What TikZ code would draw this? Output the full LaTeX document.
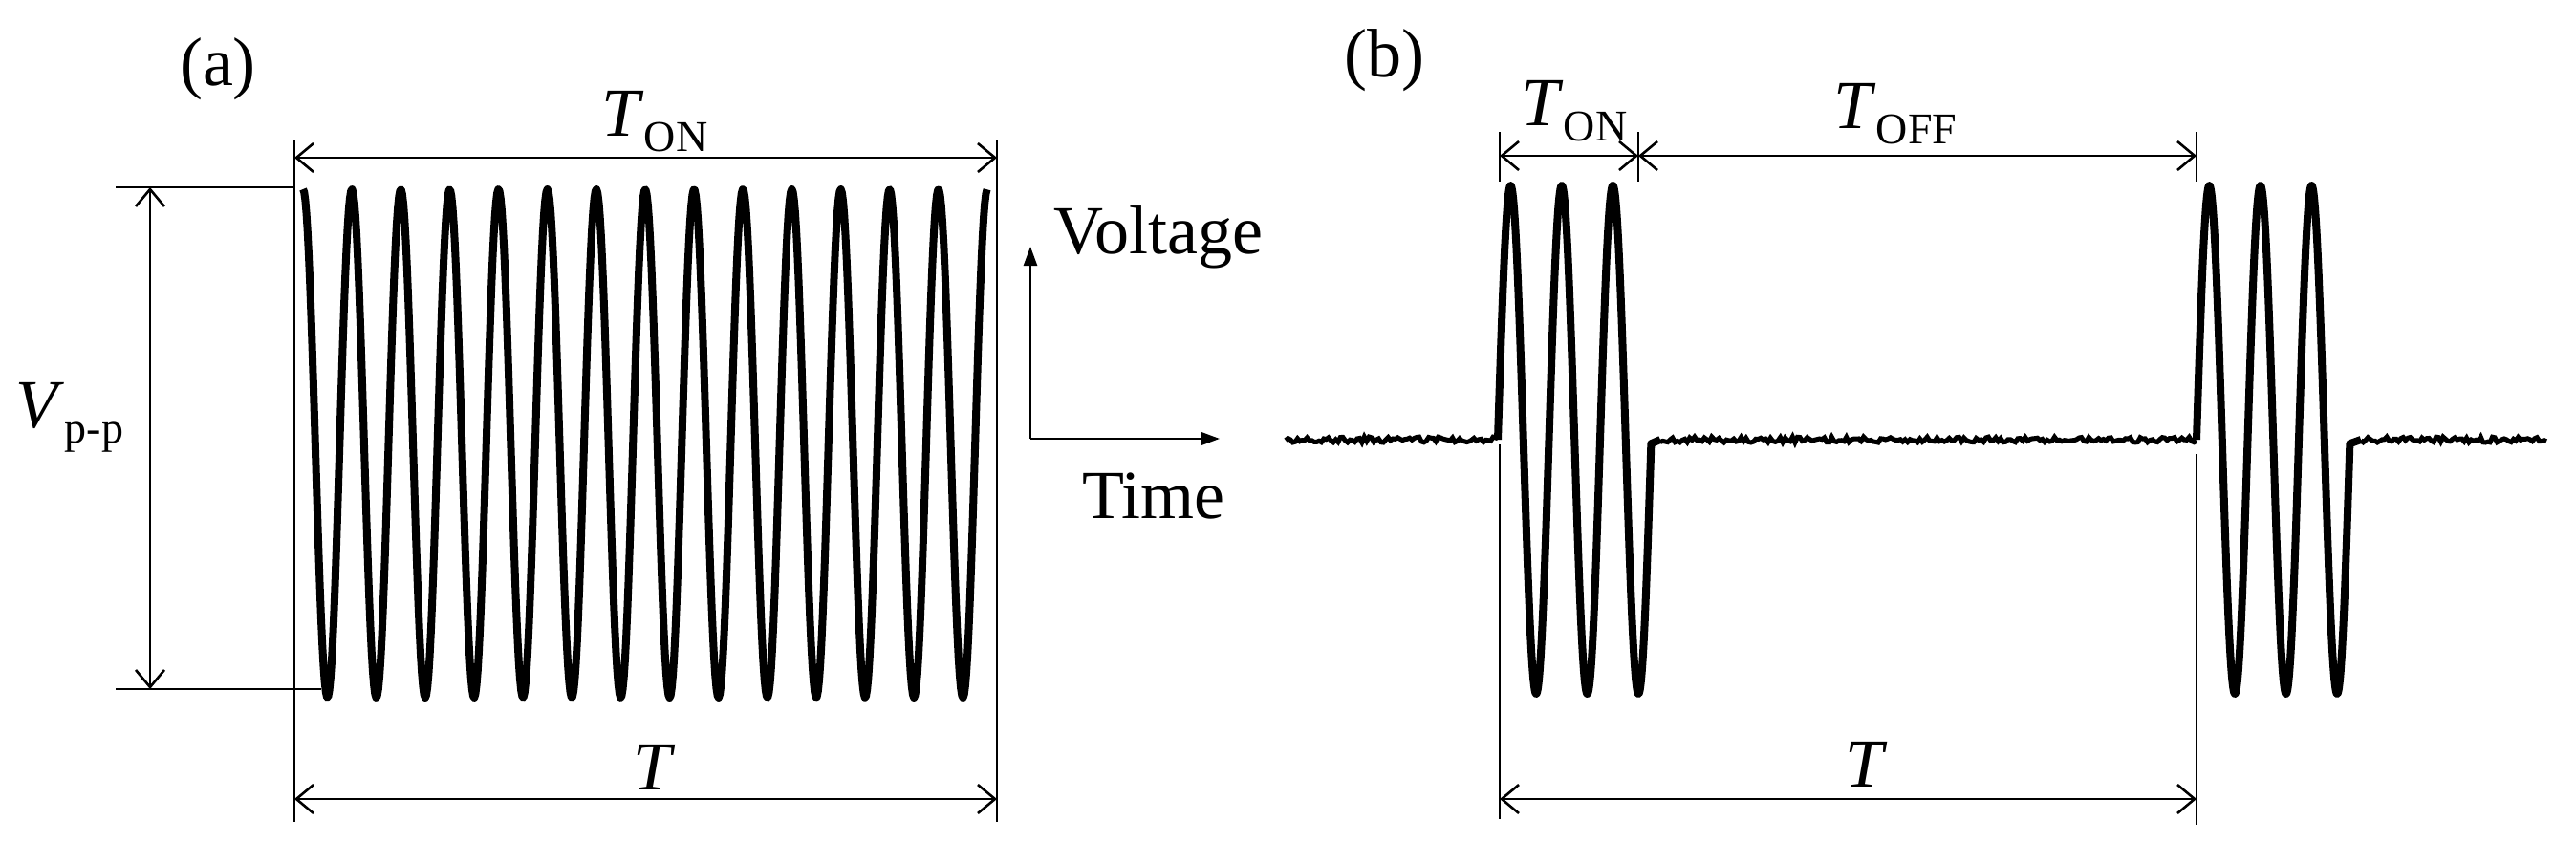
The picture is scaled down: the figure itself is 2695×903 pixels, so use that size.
\documentclass[tikz,border=0pt]{standalone}
\usepackage{fontspec}
\setmainfont{Liberation Serif}
\usetikzlibrary{arrows.meta}
\begin{document}
\begin{tikzpicture}[x=1pt,y=-1pt,
  thin line/.style={line width=2.6pt},
  dim/.style={line width=2.6pt,{Straight Barb[length=18pt,width=30pt,line width=2.6pt]}-{Straight Barb[length=18pt,width=30pt,line width=2.6pt]}},
  ax/.style={line width=2.6pt,-{Triangle[length=20pt,width=14pt]}},
  wave/.style={line width=8pt,line join=round},
  lab/.style={font=\fontsize{72}{80}\selectfont,inner sep=0pt},
  noise/.style={line width=5pt}]
\newcommand{\mysub}[1]{\raisebox{-16pt}{\fontsize{46}{52}\selectfont #1}}
\useasboundingbox (0,0) rectangle (2695,903);
% ---------- panel (a)
\node[lab] (la) at (228,72) {(a)};
\coordinate (aL1) at (308,146); \coordinate (aL2) at (308,860);
\coordinate (aR1) at (1043,146); \coordinate (aR2) at (1043,860);
\draw[thin line] (aL1) -- (aL2);
\draw[thin line] (aR1) -- (aR2);
\coordinate (aT1) at (308,165); \coordinate (aT2) at (1043,165);
\draw[dim] (aT1) -- (aT2);
\node[lab] (aTon) at (685,127) {\textit{T}\mysub{ON}};
\coordinate (aB1) at (308,836); \coordinate (aB2) at (1043,836);
\draw[dim] (aB1) -- (aB2);
\node[lab] (aT) at (685,803) {\textit{T}};
\coordinate (tk1a) at (121,196); \coordinate (tk1b) at (308,196);
\coordinate (tk2a) at (121,721); \coordinate (tk2b) at (336,721);
\draw[thin line] (tk1a) -- (tk1b);
\draw[thin line] (tk2a) -- (tk2b);
\coordinate (vp1) at (157,196); \coordinate (vp2) at (157,721);
\draw[dim] (vp1) -- (vp2);
\node[lab] (vpp) at (73,437) {\textit{V}\mysub{p-p}};
\draw[wave] plot[domain=0:14,samples=600] ({317+\x*51.14},{464-266*cos(360*\x)});
% axes
\coordinate (o) at (1078,459);
\coordinate (oy) at (1078,258);
\coordinate (ox) at (1276,459);
\draw[ax] (o) -- (oy);
\draw[ax] (o) -- (ox);
\node[lab] (volt) at (1212,248) {Voltage};
\node[lab] (time) at (1207,519) {Time};
% ---------- panel (b)
\node[lab] (lb) at (1448,63) {(b)};
\coordinate (bL1) at (1569,138); \coordinate (bL2) at (1569,190);
\coordinate (bM1) at (1714,138); \coordinate (bM2) at (1714,190);
\coordinate (bR1) at (2298,138); \coordinate (bR2) at (2298,190);
\draw[thin line] (bL1) -- (bL2);
\draw[thin line] (bM1) -- (bM2);
\draw[thin line] (bR1) -- (bR2);
\coordinate (bA) at (1569,163); \coordinate (bB) at (1714,163); \coordinate (bC) at (2298,163);
\draw[dim] (bA) -- (bB);
\draw[dim] (bB) -- (bC);
\node[lab] (bTon) at (1647,116) {\textit{T}\mysub{ON}};
\node[lab] (bToff) at (1983,119) {\textit{T}\mysub{OFF}};
\coordinate (bL3) at (1569,465); \coordinate (bL4) at (1569,857);
\coordinate (bR3) at (2298,475); \coordinate (bR4) at (2298,863);
\draw[thin line] (bL3) -- (bL4);
\draw[thin line] (bR3) -- (bR4);
\coordinate (bT1) at (1569,836); \coordinate (bT2) at (2298,836);
\draw[dim] (bT1) -- (bT2);
\node[lab] (bT) at (1953,800) {\textit{T}};
% bursts
\draw[wave] plot[domain=0:3,samples=300] ({1567+\x*53.5},{460-266*sin(360*\x)}) -- (1737,460);
\draw[wave] plot[domain=0:3,samples=300] ({2298+\x*53.5},{460-266*sin(360*\x)}) -- (2470,460);
% noisy baselines
\pgfmathsetseed{7}
\draw[noise] plot[domain=1345:1567,samples=90] (\x,{460+3*rand});
\draw[noise] plot[domain=1737:2298,samples=220] (\x,{460+3*rand});
\draw[noise] plot[domain=2470:2664,samples=80] (\x,{460+3*rand});
\end{tikzpicture}
\end{document}
